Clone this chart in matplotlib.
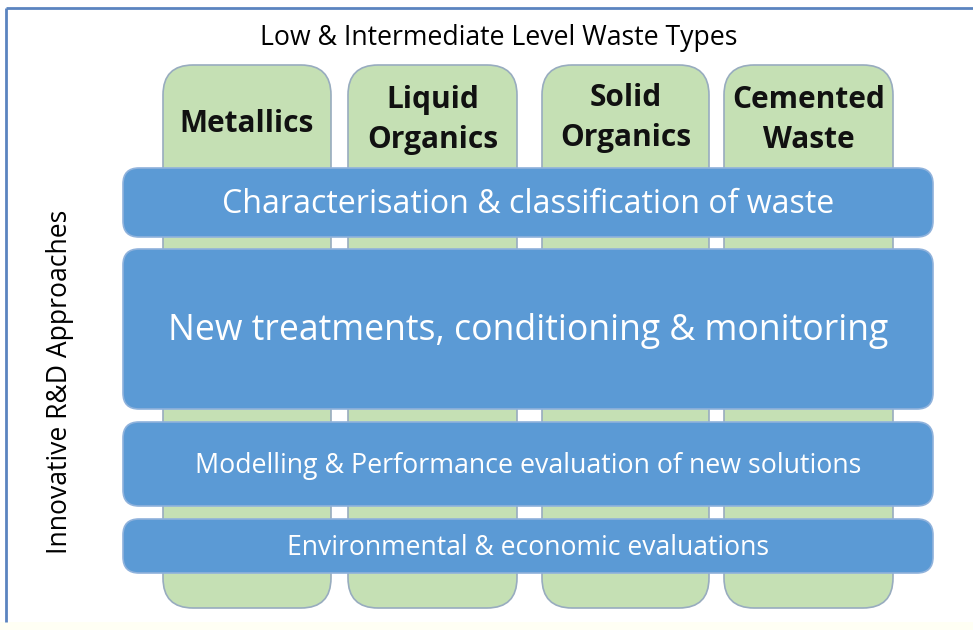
import matplotlib.pyplot as plt
from matplotlib.patches import FancyBboxPatch

plt.rcParams['font.family'] = ['Open Sans', 'DejaVu Sans']

# diagram content
title = 'Low & Intermediate Level Waste Types'
side_label = 'Innovative R&D Approaches'
waste_types = ['Metallics', 'Liquid\nOrganics', 'Solid\nOrganics', 'Cemented\nWaste']
approaches = ['Characterisation & classification of waste',
              'New treatments, conditioning & monitoring',
              'Modelling & Performance evaluation of new solutions',
              'Environmental & economic evaluations']

# layout (pixel units)
col_x = [(163, 331), (348, 517), (542, 709), (724, 893)]
col_y = (65, 608)
col_text_y = [124, 120, 118, 120]
bar_x = (123, 933)
bar_y = [(168, 237), (249, 409), (422, 506), (519, 573)]
bar_font = [23.1, 25.7, 19.3, 19.1]

fig = plt.figure(figsize=(9.73, 6.3), dpi=100)
ax = fig.add_axes([0, 0, 1, 1])
ax.set_xlim(0, 973)
ax.set_ylim(630, 0)
ax.axis('off')

# faint background strip and frame
ax.add_patch(plt.Rectangle((0, 622), 973, 8, color='#fffff4', lw=0))
ax.plot([6, 973], [8, 8], color='#5b84c0', lw=2, solid_capstyle='butt')
ax.plot([6, 6], [8, 622], color='#5b84c0', lw=2, solid_capstyle='butt')

ax.text(499, 38, title, ha='center', va='center', fontsize=19.2, color='black')
ax.text(60, 382, side_label, ha='center', va='center', rotation=90,
        fontsize=19.1, color='black')

for (x0, x1), label, ty in zip(col_x, waste_types, col_text_y):
    ax.add_patch(FancyBboxPatch((x0, col_y[0]), x1 - x0, col_y[1] - col_y[0],
                                boxstyle='round,pad=0,rounding_size=30',
                                fc='#c5e0b4', ec='#98acbf', lw=1.2))
    ax.text((x0 + x1) / 2, ty, label, ha='center', va='center', fontsize=21.5,
            fontweight='bold', color='#111111', linespacing=1.4)

for (y0, y1), label, fs in zip(bar_y, approaches, bar_font):
    ax.add_patch(FancyBboxPatch((bar_x[0], y0), bar_x[1] - bar_x[0], y1 - y0,
                                boxstyle='round,pad=0,rounding_size=16',
                                fc='#5b9ad5', ec='#8fb2dc', lw=1.2))
    ax.text((bar_x[0] + bar_x[1]) / 2, (y0 + y1) / 2 + 2, label, ha='center',
            va='center', fontsize=fs, color='white')

fig.savefig('out.png', dpi=100)
